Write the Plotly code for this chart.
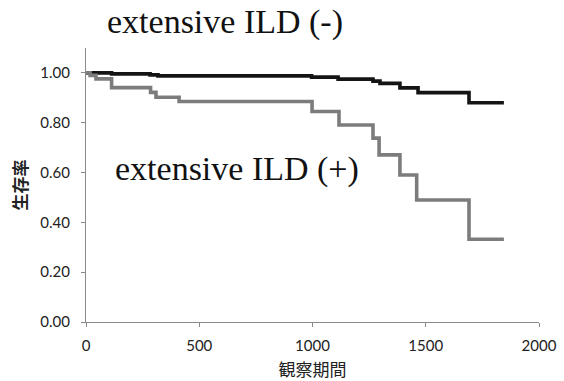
import plotly.graph_objects as go

# Kaplan-Meier survival estimates (observation days vs survival rate)
days_ild_neg = [0, 113, 283, 318, 996, 1113, 1267, 1298, 1386, 1466, 1691, 1845]
surv_ild_neg = [1.0, 0.996, 0.992, 0.988, 0.983, 0.975, 0.967, 0.958, 0.94, 0.921, 0.88, 0.88]

days_ild_pos = [0, 18, 44, 113, 285, 309, 411, 998, 1117, 1267, 1294, 1386, 1460, 1691, 1845]
surv_ild_pos = [1.0, 0.99, 0.976, 0.941, 0.922, 0.902, 0.885, 0.845, 0.791, 0.738, 0.671,
                0.59, 0.49, 0.332, 0.332]

y_ticks = [0.0, 0.2, 0.4, 0.6, 0.8, 1.0]
y_tick_text = ["0.00", "0.20", "0.40", "0.60", "0.80", "1.00"]
x_ticks = [0, 500, 1000, 1500, 2000]

label_neg = "extensive ILD (-)"
label_pos = "extensive ILD (+)"

fig = go.Figure()
fig.add_trace(go.Scatter(
    x=days_ild_neg, y=surv_ild_neg, mode="lines", line_shape="hv",
    line=dict(color="#141414", width=3.6), name=label_neg,
))
fig.add_trace(go.Scatter(
    x=days_ild_pos, y=surv_ild_pos, mode="lines", line_shape="hv",
    line=dict(color="#7c7c7c", width=3.6), name=label_pos,
))

serif = "Liberation Serif, Times New Roman, serif"
fig.add_annotation(text=label_neg, xref="paper", yref="paper", x=0.306, y=1.095,
                   xanchor="center", yanchor="middle", showarrow=False,
                   font=dict(family=serif, size=34, color="#111"))
fig.add_annotation(text=label_pos, xref="paper", yref="paper", x=0.333, y=0.56,
                   xanchor="center", yanchor="middle", showarrow=False,
                   font=dict(family=serif, size=34, color="#111"))

axis_common = dict(
    showgrid=False, zeroline=False, showline=True, linecolor="#8a8a8a", linewidth=1,
    ticks="outside", ticklen=4, tickcolor="#8a8a8a", automargin=False,
    tickfont=dict(family="Lato, Open Sans, sans-serif", size=15, color="#222"),
)

fig.update_layout(
    width=564, height=381,
    margin=dict(l=86, r=25, t=48, b=59),
    paper_bgcolor="white", plot_bgcolor="white",
    showlegend=False,
    xaxis=dict(range=[0, 2000], tickvals=x_ticks, ticklabelstandoff=6,
               title=dict(text="観察期間", standoff=13,
                          font=dict(family="Noto Sans CJK JP", size=17, color="#222")),
               **axis_common),
    yaxis=dict(range=[0, 1.1], tickvals=y_ticks, ticktext=y_tick_text, ticklabelstandoff=8,
               title=dict(text="<b>生存率</b>", standoff=8,
                          font=dict(family="Noto Sans CJK JP", size=17, color="#222")),
               **axis_common),
)

fig.write_html("out.html")
